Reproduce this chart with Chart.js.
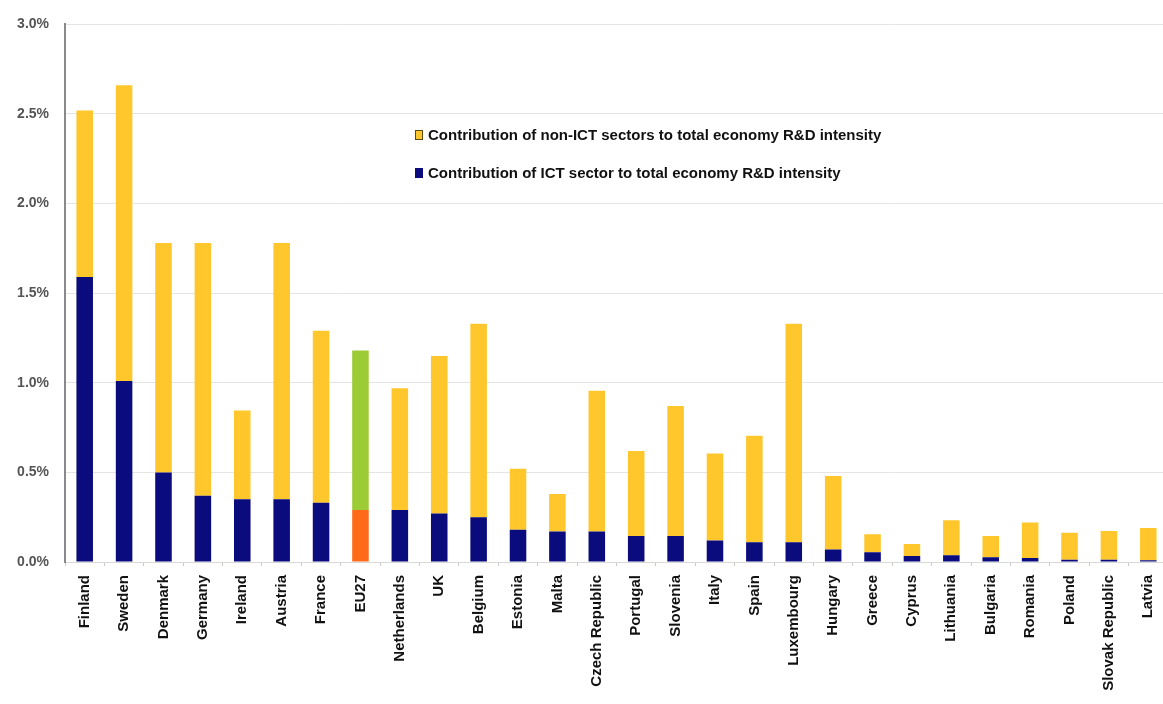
<!DOCTYPE html>
<html>
<head>
<meta charset="utf-8">
<script src="https://cdn.jsdelivr.net/npm/chart.js"></script>
<style>
  html, body { margin: 0; padding: 0; background: #fff; overflow: hidden; }
  canvas { display: block; }
</style>
</head>
<body>
<canvas id="rdChart" width="1163" height="704"></canvas>
<script>
// Data (percent of GDP)
const countries = ['Finland', 'Sweden', 'Denmark', 'Germany', 'Ireland', 'Austria', 'France', 'EU27',
  'Netherlands', 'UK', 'Belgium', 'Estonia', 'Malta', 'Czech Republic', 'Portugal', 'Slovenia',
  'Italy', 'Spain', 'Luxembourg', 'Hungary', 'Greece', 'Cyprus', 'Lithuania', 'Bulgaria',
  'Romania', 'Poland', 'Slovak Republic', 'Latvia'];
const ictShare = [1.59, 1.01, 0.50, 0.37, 0.35, 0.35, 0.33, 0.29,
  0.29, 0.27, 0.25, 0.18, 0.17, 0.17, 0.145, 0.145,
  0.12, 0.11, 0.11, 0.07, 0.055, 0.033, 0.037, 0.027,
  0.022, 0.012, 0.012, 0.01];
const nonIctShare = [0.93, 1.65, 1.28, 1.41, 0.495, 1.43, 0.96, 0.89,
  0.68, 0.88, 1.08, 0.34, 0.21, 0.785, 0.475, 0.725,
  0.485, 0.595, 1.22, 0.41, 0.10, 0.067, 0.196, 0.118,
  0.198, 0.151, 0.161, 0.18];
const yTicks = [0, 0.5, 1.0, 1.5, 2.0, 2.5, 3.0];

const YELLOW = '#FFC72C';
const NAVY = '#0A0C7E';
const EU_ORANGE = '#FF6A1A';
const EU_GREEN = '#9DCB35';

// the original plot runs a little past the right edge of the picture
const PLOT_RIGHT = 1168;

const widenPlot = {
  id: 'widenPlot',
  afterLayout(chart) {
    const x = chart.scales.x;
    x.right = PLOT_RIGHT;
    x.width = x.right - x.left;
    x.configure();
    chart.chartArea.right = PLOT_RIGHT;
    chart.chartArea.width = PLOT_RIGHT - chart.chartArea.left;
  }
};

// legend drawn inside the plot, like the original
const insideLegend = {
  id: 'insideLegend',
  afterDraw(chart) {
    const ctx = chart.ctx;
    const items = [
      { text: chart.data.datasets[1].label, fill: YELLOW, stroke: '#5a4a10', y: 135 },
      { text: chart.data.datasets[0].label, fill: NAVY, stroke: NAVY, y: 173 }
    ];
    ctx.save();
    ctx.font = 'bold 15px "Liberation Sans", Arial, sans-serif';
    ctx.textBaseline = 'middle';
    items.forEach(it => {
      ctx.fillStyle = it.fill;
      ctx.fillRect(415, it.y - 5, 8, 10);
      ctx.strokeStyle = it.stroke;
      ctx.lineWidth = 1;
      ctx.strokeRect(415.5, it.y - 4.5, 7, 9);
      ctx.fillStyle = '#111';
      ctx.fillText(it.text, 428, it.y + 1);
    });
    ctx.restore();
  }
};

const ctx = document.getElementById('rdChart').getContext('2d');
new Chart(ctx, {
  type: 'bar',
  data: {
    labels: countries,
    datasets: [
      {
        label: 'Contribution of ICT sector to total economy R&D intensity',
        data: ictShare,
        backgroundColor: countries.map(c => c === 'EU27' ? EU_ORANGE : NAVY),
        barPercentage: 0.42,
        categoryPercentage: 1.0
      },
      {
        label: 'Contribution of non-ICT sectors to total economy R&D intensity',
        data: nonIctShare,
        backgroundColor: countries.map(c => c === 'EU27' ? EU_GREEN : YELLOW),
        barPercentage: 0.42,
        categoryPercentage: 1.0
      }
    ]
  },
  options: {
    responsive: false,
    animation: false,
    layout: { padding: { top: 20, right: 0, bottom: 0, left: 0 } },
    plugins: {
      legend: { display: false },
      tooltip: { enabled: false }
    },
    scales: {
      x: {
        stacked: true,
        offset: true,
        grid: { drawOnChartArea: false, drawTicks: true, tickLength: 4, color: '#c8c8c8' },
        border: { color: '#d8d8d8', width: 1 },
        ticks: {
          autoSkip: false,
          minRotation: 90,
          maxRotation: 90,
          padding: 9,
          color: '#111',
          font: { family: '"Liberation Sans", Arial, sans-serif', size: 15, weight: 'bold' }
        },
        afterFit(scale) { scale.height = 142; }
      },
      y: {
        stacked: true,
        min: 0,
        max: 3,
        afterBuildTicks(scale) { scale.ticks = yTicks.map(v => ({ value: v })); },
        grid: { color: '#e4e4e4', lineWidth: 1, drawTicks: false },
        border: { color: '#8a8a8a', width: 2 },
        ticks: {
          padding: 16,
          color: '#555',
          font: { family: '"Liberation Sans", Arial, sans-serif', size: 14, weight: 'bold' },
          callback: v => v.toFixed(1) + '%'
        },
        afterFit(scale) { scale.width = 65; }
      }
    }
  },
  plugins: [widenPlot, insideLegend]
});
</script>
</body>
</html>
